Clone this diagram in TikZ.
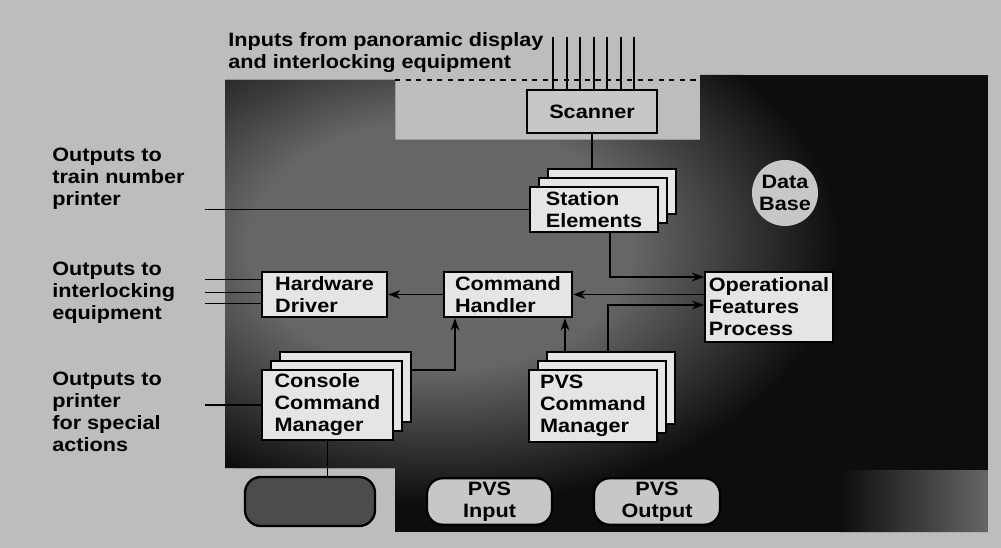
\documentclass[tikz,border=0pt]{standalone}
\usepackage{fontspec}
\setmainfont{Liberation Sans}[FakeStretch=1.12]
\usepackage{tikz}
\usetikzlibrary{positioning,arrows.meta,calc}

\definecolor{paper}{gray}{0.74}
\definecolor{panel}{gray}{0.05}
\definecolor{mottle}{gray}{0.40}
\definecolor{boxfill}{gray}{0.90}
\definecolor{dotfill}{gray}{0.78}
\definecolor{darkbox}{gray}{0.30}
\pgfdeclareradialshading{panelglow}{\pgfpoint{0bp}{0bp}}{color(0bp)=(mottle); color(12bp)=(mottle); color(25bp)=(panel); color(50bp)=(panel)}

\begin{document}
\begin{tikzpicture}[
  x=0.2mm, y=-0.2mm,
  font={\fontsize{11}{12.5}\selectfont\bfseries},
  >=Stealth,
  procnode/.style={draw=black, line width=1.3pt, fill=boxfill, align=left, inner xsep=2pt, inner ysep=1pt},
  dotnode/.style={draw=black, line width=1.3pt, fill=dotfill, align=center, inner sep=2pt},
  padnode/.style={dotnode, rounded corners=9pt},
  outlabel/.style={anchor=north west, inner sep=0pt, align=left},
  link/.style={draw=black, line width=0.9pt},
  flow/.style={link, -{Stealth[length=7pt, width=5pt]}}
]
  % backdrop and dark panel
  \fill[paper] (0,0) rectangle (1001,548);
  \begin{scope}
    \clip (225,80) -- (395,80) -- (395,140) -- (700,140) -- (700,75) -- (988,75)
      -- (988,532) -- (395,532) -- (395,468) -- (225,468) -- cycle;
    \fill[panel] (225,75) rectangle (988,532);
    \shade[shading=panelglow] (440,245) ellipse (400 and 260);
    \shade[left color=panel, right color=mottle] (840,470) rectangle (988,532);
  \end{scope}
  \draw[link, dashed] (395,80) -- (700,80);

  \node[outlabel] (ttl) at (228,32) {Inputs from panoramic display\\and interlocking equipment};
  \node[outlabel] (outtrain) at (52,148) {Outputs to\\train number\\printer};
  \node[outlabel] (outinter) at (52,262) {Outputs to\\interlocking\\equipment};
  \node[outlabel] (outprint) at (52,372) {Outputs to\\printer\\for special\\actions};

  \node[dotnode, minimum width=2.6cm, minimum height=0.86cm] (scan) at (592,111.5) {Scanner};
  \foreach \xi [count=\k] in {553,567,580,594,607,621,634} {
    \coordinate (feed\k) at (\xi,37);
    \draw[link] (feed\k) -- (feed\k |- scan.north);
  }

  \foreach \k in {2,1}
    \node[procnode, minimum width=2.56cm, minimum height=0.9cm] (stat\k) at (594+9*\k,209.5-9*\k) {};
  \node[procnode, minimum width=2.56cm, minimum height=0.9cm] (stat) at (594,209.5) {Station\\Elements};
  \node[dotnode, circle, draw=none, minimum size=1.32cm, inner sep=0pt] (db) at (785,193) {Data\\Base};

  \node[procnode, minimum width=2.5cm, minimum height=0.9cm] (hd) at (324.5,294.5) {Hardware\\Driver};
  \node[procnode, minimum width=2.56cm, minimum height=0.9cm] (ch) at (508,294.5) {Command\\Handler};
  \node[procnode, minimum width=2.52cm, minimum height=1.4cm] (ofp) at (769,307) {Operational\\Features\\Process};

  \foreach \k in {2,1}
    \node[procnode, minimum width=2.62cm, minimum height=1.4cm] (ccm\k) at (327.5+9*\k,405-9*\k) {};
  \node[procnode, minimum width=2.62cm, minimum height=1.4cm] (ccm) at (327.5,405) {Console\\Command\\Manager};
  \foreach \k in {2,1}
    \node[procnode, minimum width=2.56cm, minimum height=1.44cm] (pvs\k) at (593+9*\k,406-9*\k) {};
  \node[procnode, minimum width=2.56cm, minimum height=1.44cm] (pvs) at (593,406) {PVS\\Command\\Manager};

  \node[padnode, fill=darkbox, minimum width=2.6cm, minimum height=0.98cm] (cons) at (310,501.5) {};
  \node[padnode, minimum width=2.5cm, minimum height=0.86cm] (pin) at (489.5,501.5) {PVS\\Input};
  \node[padnode, minimum width=2.52cm, minimum height=0.86cm] (pout) at (657,501.5) {PVS\\Output};

  \coordinate (tapA) at (205,209.5);
  \coordinate (tapB) at (205,294.5);
  \coordinate (tapC) at (205,405);

  \draw[link] (scan.south) -- (scan.south |- stat2.north);
  \draw[link] (stat.west) -- (tapA);
  \draw[flow] ($(stat.south)+(16,0)$) |- ($(ofp.west)+(0,-30)$);
  \draw[flow] (ofp.west |- ch.east) -- (ch.east);
  \draw[flow] (ch.west) -- (hd.east);
  \foreach \dy in {-15,-2,9}
    \draw[link] ($(hd.west)+(0,\dy)$) -- ($(tapB)+(0,\dy)$);
  \draw[link] (ccm.west) -- (tapC);
  \draw[flow] ($(ccm2.east)+(0,-17)$) -| ($(ch.south)+(-53,0)$);
  \coordinate (pvsup) at ($(ch.south)+(57,0)$);
  \draw[flow] (pvsup |- pvs2.north) -- (pvsup);
  \draw[flow] ($(pvs2.north)+(-3,0)$) |- ($(ofp.west)+(0,-2)$);
  \draw[link] (ccm.south) -- (ccm.south |- cons.north);
\end{tikzpicture}
\end{document}
